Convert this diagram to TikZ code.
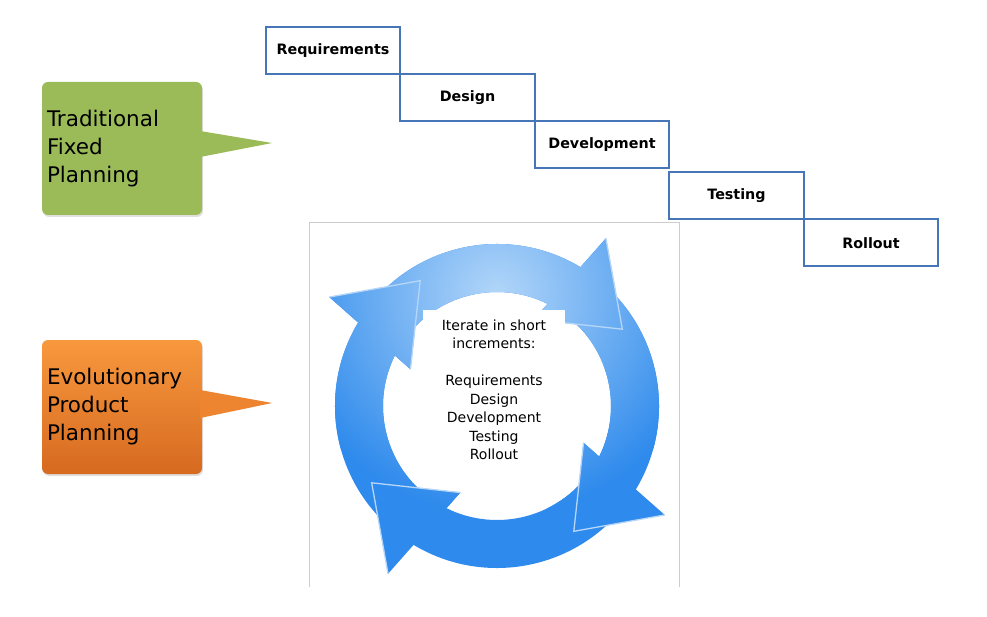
\documentclass[tikz,border=0pt]{standalone}
\usepackage{fontspec}
\setmainfont{DejaVu Sans}
\usetikzlibrary{positioning,shadows}

\definecolor{stageblue}{RGB}{70,118,184}
\definecolor{tradgreen}{RGB}{155,187,89}
\definecolor{evotop}{RGB}{248,152,62}
\definecolor{evobot}{RGB}{214,106,32}
\definecolor{evomid}{RGB}{236,132,48}
\definecolor{ringblue}{RGB}{46,138,236}
\definecolor{ringlight}{RGB}{178,214,249}
\definecolor{framegray}{RGB}{204,204,204}

\tikzset{
  stage/.style={draw=stageblue, line width=2pt, fill=white, outer sep=0pt, inner sep=0pt,
    minimum width=134.5pt, minimum height=47pt, font=\fontsize{14.3}{17}\selectfont\bfseries},
  balloon/.style={rounded corners=6pt, inner xsep=5pt, inner ysep=0pt, minimum width=160pt,
    text width=150pt, align=left, font=\fontsize{21.5}{28}\selectfont,
    drop shadow={shadow xshift=1pt, shadow yshift=-2pt, opacity=.25}},
  headedge/.style={draw=white!65!ringblue, line width=1.3pt},
}

% one arrow of the loop, turned by #1 degrees
\newcommand{\cyclearrow}[1]{%
  (#1+145:162) arc[start angle=#1+145, end angle=#1+59, radius=162]
  -- (#1+57:200) -- (#1+31.5:147) -- (#1+67:94) -- (#1+63.7:114)
  arc[start angle=#1+63.7, end angle=#1+145, radius=114] -- cycle }

\begin{document}
\begin{tikzpicture}[x=1pt,y=-1pt]
	\useasboundingbox (0,0) rectangle (987,617);
	% waterfall steps
	\node[stage] (req) at (333,51) {Requirements};
	\node[stage, below right=0pt and 0pt of req] (des) {Design};
	\node[stage, below right=0pt and 0pt of des] (dev) {Development};
	\node[stage, below right=4pt and 0pt of dev] (tst) {Testing};
	\node[stage, below right=0pt and 0pt of tst] (roll) {Rollout};
	% callouts
	\node[balloon, fill=tradgreen, minimum height=133pt] (trad) at (122,148.5) {Traditional\\Fixed\\Planning};
	\fill[tradgreen] ([shift={(-2,-17.5)}]trad.east) -- ([shift={(70,-5.5)}]trad.east) -- ([shift={(-2,8.5)}]trad.east) -- cycle;
	\node[balloon, top color=evotop, bottom color=evobot, minimum height=134pt] (evo) at (122,407) {Evolutionary\\Product\\Planning};
	\fill[evomid] ([shift={(-2,-17)}]evo.east) -- ([shift={(70,-4)}]evo.east) -- ([shift={(-2,11)}]evo.east) -- cycle;
	% loop picture
	\draw[framegray] (309,587) -- (309,222) -- (679,222) -- (679,587);
	\begin{scope}[shift={(497,406)}, yscale=-1]
		\begin{scope}
			\clip \cyclearrow{0} \cyclearrow{-90} \cyclearrow{-180} \cyclearrow{-270};
			\fill[ringblue] (-220,-220) rectangle (220,220);
			\shade[inner color=ringlight, outer color=ringblue] (0,112) circle (220);
		\end{scope}
		\foreach \a in {0,-90,-180,-270}
			\draw[headedge] (\a+57:200) -- (\a+31.5:147) -- (\a+67:94);
	\end{scope}
	\node[fill=white, minimum width=142pt, inner ysep=9.4pt, anchor=north, align=center,
		font=\fontsize{14}{18.5}\selectfont] (iter) at (494,310)
		{Iterate in short\\increments:\\[18.5pt]Requirements\\Design\\Development\\Testing\\Rollout};
\end{tikzpicture}
\end{document}
